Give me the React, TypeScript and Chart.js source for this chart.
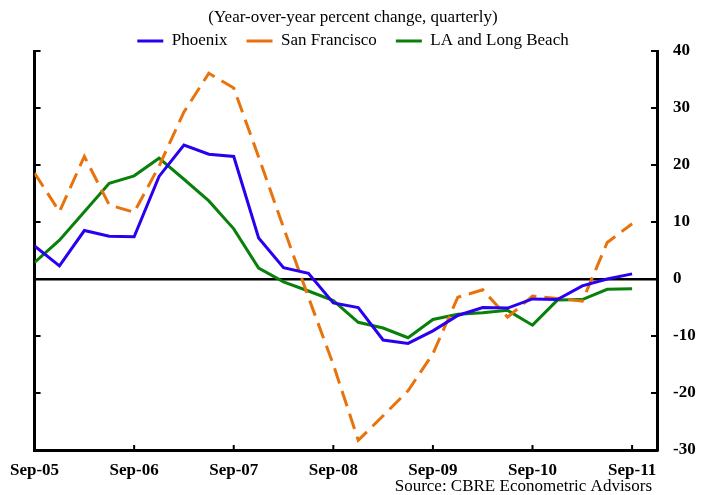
import React, { useEffect, useRef } from "react";
import { Chart, registerables } from "chart.js";

Chart.register(...registerables);

const quarters = [
  "Sep-05", "Dec-05", "Mar-06", "Jun-06", "Sep-06", "Dec-06", "Mar-07", "Jun-07",
  "Sep-07", "Dec-07", "Mar-08", "Jun-08", "Sep-08", "Dec-08", "Mar-09", "Jun-09",
  "Sep-09", "Dec-09", "Mar-10", "Jun-10", "Sep-10", "Dec-10", "Mar-11", "Jun-11",
  "Sep-11",
];
const tickLabels = ["Sep-05", "Sep-06", "Sep-07", "Sep-08", "Sep-09", "Sep-10", "Sep-11"];
const yTicks = [-30, -20, -10, 0, 10, 20, 30, 40];

const phoenix = [
  5.8, 2.3, 8.5, 7.5, 7.4, 18.0, 23.5, 21.9, 21.5, 7.2, 2.0, 1.0, -4.2,
  -5.0, -10.7, -11.3, -9.1, -6.4, -5.0, -5.1, -3.5, -3.6, -1.2, 0.0, 0.9,
];
const sanFrancisco = [
  18.6, 11.8, 21.5, 13.0, 11.7, 19.8, 29.3, 36.1, 33.5, 21.4, 9.0, -3.2, -15.0,
  -28.3, -24.0, -19.6, -13.1, -3.2, -1.9, -6.7, -3.0, -3.4, -3.9, 6.4, 9.7,
];
const laLongBeach = [
  2.9, 6.8, 11.8, 16.8, 18.1, 21.2, 17.5, 13.7, 8.8, 1.9, -0.5, -2.1, -3.8,
  -7.6, -8.6, -10.3, -7.1, -6.2, -5.9, -5.5, -8.1, -3.7, -3.6, -1.8, -1.7,
];

const SERIF = '"Liberation Serif", "Times New Roman", serif';
const toPoints = (arr: number[]) => arr.map((y, i) => ({ x: i, y }));

export default function App() {
  const ref = useRef<HTMLCanvasElement | null>(null);

  useEffect(() => {
    document.body.style.margin = "0";
    const canvas = ref.current;
    if (!canvas) return;

    const tickPositions = tickLabels.map((l) => quarters.indexOf(l));

    const legendFitPatch = {
      id: "legendFitPatch",
      afterInit(chart: any) {
        const lg = chart.legend;
        if (lg && !lg.__patched) {
          const orig = lg.fit.bind(lg);
          lg.fit = function () {
            orig();
            this.height -= 8.5;
          };
          lg.__patched = true;
        }
      },
    };

    const innerTicks = {
      id: "innerTicks",
      afterDraw(chart: any) {
        const { ctx, chartArea, scales } = chart;
        ctx.save();
        ctx.strokeStyle = "#000";
        ctx.lineWidth = 2;
        ctx.beginPath();
        tickPositions.forEach((v) => {
          const px = scales.x.getPixelForValue(v);
          ctx.moveTo(px, chartArea.bottom);
          ctx.lineTo(px, chartArea.bottom - 5);
        });
        yTicks.forEach((v) => {
          const py = scales.y.getPixelForValue(v);
          ctx.moveTo(chartArea.left, py);
          ctx.lineTo(chartArea.left + 6, py);
          ctx.moveTo(chartArea.right, py);
          ctx.lineTo(chartArea.right - 6, py);
        });
        ctx.stroke();
        // source note
        ctx.fillStyle = "#000";
        ctx.font = `17px ${SERIF}`;
        ctx.textAlign = "right";
        ctx.textBaseline = "middle";
        ctx.fillText("Source: CBRE Econometric Advisors", chart.width - 63, chart.height - 8);
        ctx.restore();
      },
    };

    const chart = new Chart(canvas, {
      type: "line",
      data: {
        datasets: [
          {
            label: "Phoenix",
            data: toPoints(phoenix),
            borderColor: "#2a00f0",
            backgroundColor: "#2a00f0",
            borderWidth: 3,
            pointRadius: 0,
            tension: 0,
          },
          {
            label: "San Francisco",
            data: toPoints(sanFrancisco),
            borderColor: "#e8720c",
            backgroundColor: "#e8720c",
            borderWidth: 3,
            borderDash: [16, 8],
            pointRadius: 0,
            tension: 0,
          },
          {
            label: "LA and Long Beach",
            data: toPoints(laLongBeach),
            borderColor: "#08800a",
            backgroundColor: "#08800a",
            borderWidth: 3,
            pointRadius: 0,
            tension: 0,
          },
        ],
      },
      options: {
        responsive: false,
        animation: false,
        layout: { padding: { left: 0, right: 9, top: 0, bottom: 4.6 } },
        plugins: {
          title: {
            display: true,
            text: "(Year-over-year percent change, quarterly)",
            color: "#000",
            font: { family: SERIF, size: 17, weight: "normal" },
            padding: { top: 7, bottom: -13.9 },
          },
          legend: {
            display: true,
            position: "top",
            labels: {
              color: "#000",
              font: { family: SERIF, size: 17 },
              boxWidth: 26,
              boxHeight: 3,
              padding: 19,
              generateLabels: (c: any) =>
                Chart.defaults.plugins.legend.labels.generateLabels(c).map((l: any) => ({
                  ...l,
                  fillStyle: l.strokeStyle,
                  lineWidth: 0,
                  lineDash: [],
                })),
            },
          },
          tooltip: { enabled: false },
        },
        scales: {
          x: {
            type: "linear",
            min: 0,
            max: quarters.length,
            afterBuildTicks: (axis: any) => {
              axis.ticks = tickPositions.map((v) => ({ value: v }));
            },
            ticks: {
              autoSkip: false,
              maxRotation: 0,
              padding: 10,
              color: "#000",
              font: { family: SERIF, size: 17, weight: "bold" },
              callback: (v: any) => quarters[Number(v)] ?? "",
            },
            grid: { display: false, drawTicks: false },
            border: { display: true, color: "#000", width: 3 },
          },
          y: {
            type: "linear",
            position: "right",
            min: -30,
            max: 40,
            afterBuildTicks: (axis: any) => {
              axis.ticks = yTicks.map((v) => ({ value: v }));
            },
            afterFit: (axis: any) => {
              axis.width = 49;
            },
            ticks: {
              padding: 16,
              color: "#000",
              font: { family: SERIF, size: 17, weight: "bold" },
            },
            grid: {
              drawTicks: false,
              drawOnChartArea: true,
              color: (ctx: any) => (ctx.tick && ctx.tick.value === 0 ? "#000" : "rgba(0,0,0,0)"),
              lineWidth: 2.5,
            },
            border: { display: true, color: "#000", width: 3 },
          },
          yLeft: {
            type: "linear",
            position: "left",
            min: -30,
            max: 40,
            afterFit: (axis: any) => {
              axis.width = 34;
            },
            ticks: { display: false },
            grid: { display: false, drawTicks: false },
            border: { display: true, color: "#000", width: 3 },
          },
        },
      } as any,
      plugins: [legendFitPatch, innerTicks],
    });

    return () => chart.destroy();
  }, []);

  return (
    <div style={{ width: 715, height: 495 }}>
      <canvas ref={ref} width={715} height={495} style={{ display: "block" }} />
    </div>
  );
}
